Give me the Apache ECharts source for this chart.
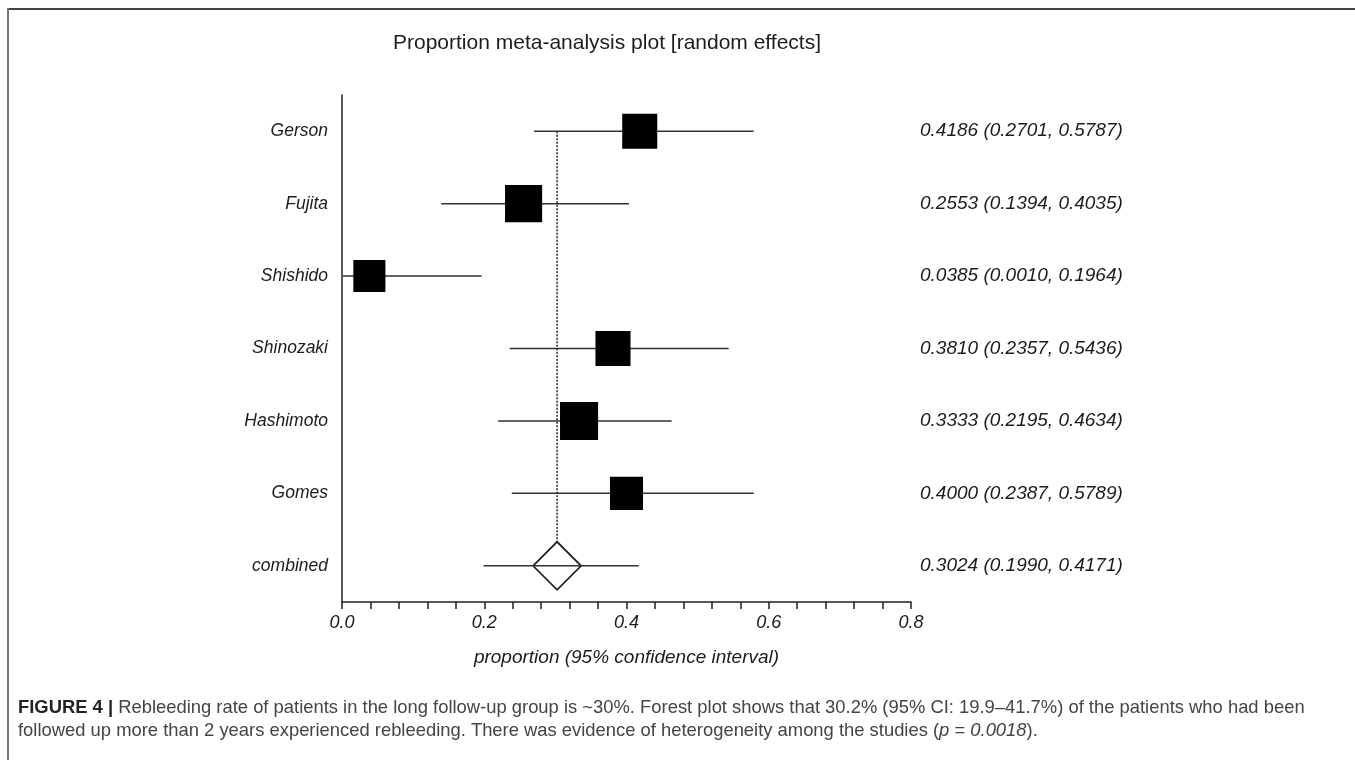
<!DOCTYPE html>
<html>
<head>
<meta charset="utf-8">
<script src="https://cdn.jsdelivr.net/npm/echarts@6/dist/echarts.min.js"></script>
<style>
html,body{margin:0;padding:0;background:#fff;}
#chart{width:1355px;height:760px;}
</style>
</head>
<body>
<div id="chart"></div>
<script>
// ---- data ----
const studies = ['Gerson', 'Fujita', 'Shishido', 'Shinozaki', 'Hashimoto', 'Gomes', 'combined'];
const estimate = [0.4186, 0.2553, 0.0385, 0.3810, 0.3333, 0.4000, 0.3024];
const lower = [0.2701, 0.1394, 0.0010, 0.2357, 0.2195, 0.2387, 0.1990];
const upper = [0.5787, 0.4035, 0.1964, 0.5436, 0.4634, 0.5789, 0.4171];
const weight = [16.6, 18.6, 13.9, 16.6, 19.6, 14.8]; // relative weights (%) of the studies
const xTickLabels = ['0.0', '0.2', '0.4', '0.6', '0.8'];

const titleText = 'Proportion meta-analysis plot [random effects]';
const xAxisTitle = 'proportion (95% confidence interval)';

const ciLabels = studies.map((s, i) =>
  estimate[i].toFixed(4) + ' (' + lower[i].toFixed(4) + ', ' + upper[i].toFixed(4) + ')');

const pooledIndex = studies.length - 1;
const rows = studies.map((s, i) => [i, estimate[i], lower[i], upper[i], i < pooledIndex ? weight[i] : 0]);

const FONT = '"Liberation Sans", Arial, sans-serif';
const INK = '#1c1c1c';

const chart = echarts.init(document.getElementById('chart'), null, {renderer: 'canvas'});

function renderItem(params, api) {
  const idx = api.value(0);
  const est = api.value(1), lo = api.value(2), hi = api.value(3), w = api.value(4);
  const pE = api.coord([est, idx]);
  const pL = api.coord([lo, idx]);
  const pH = api.coord([hi, idx]);
  const lineStyle = {stroke: '#333', lineWidth: 1.5};
  const children = [];
  if (idx === pooledIndex) {
    const h = 24;
    const top = api.coord([est, 0]);
    children.push({
      type: 'line',
      shape: {x1: pE[0], y1: top[1], x2: pE[0], y2: pE[1] - h},
      style: {stroke: '#222', lineWidth: 1.5, lineDash: [2, 1.5]}
    });
    children.push({
      type: 'polygon',
      shape: {points: [[pE[0] - h, pE[1]], [pE[0], pE[1] - h], [pE[0] + h, pE[1]], [pE[0], pE[1] + h]]},
      style: {fill: '#fff', stroke: '#222', lineWidth: 1.8}
    });
    children.push({
      type: 'line',
      shape: {x1: pL[0], y1: pL[1], x2: pH[0], y2: pH[1]},
      style: lineStyle
    });
  } else {
    children.push({
      type: 'line',
      shape: {x1: pL[0], y1: pL[1], x2: pH[0], y2: pH[1]},
      style: lineStyle
    });
    const s = Math.sqrt(w) * 8.6;
    children.push({
      type: 'rect',
      shape: {x: pE[0] - s / 2, y: pE[1] - s / 2, width: s, height: s},
      style: {fill: '#000'}
    });
  }
  return {type: 'group', children: children};
}

const CAP = 18.4;
const option = {
  backgroundColor: '#fff',
  animation: false,
  title: [
    {
      text: titleText,
      left: 388, top: 28,
      textStyle: {fontFamily: FONT, fontSize: 21, fontWeight: 'normal', color: INK}
    },
    {
      text: '{b|FIGURE 4 |} {n|Rebleeding rate of patients in the long follow-up group is ~30%. Forest plot shows that 30.2% (95% CI: 19.9–41.7%) of the patients who had been}\n' +
            '{n|followed up more than 2 years experienced rebleeding. There was evidence of heterogeneity among the studies (}{i|p}{n| = }{i|0.0018}{n|).}',
      left: 13, top: 691,
      textStyle: {
        fontFamily: FONT, fontSize: CAP, fontWeight: 'normal', color: '#444', lineHeight: 23,
        rich: {
          b: {fontFamily: FONT, fontSize: CAP, fontWeight: 'bold', color: '#222', lineHeight: 23},
          n: {fontFamily: FONT, fontSize: CAP, color: '#444', lineHeight: 23},
          i: {fontFamily: FONT, fontSize: CAP, fontStyle: 'italic', color: '#444', lineHeight: 23}
        }
      }
    }
  ],
  graphic: [
    {type: 'line', shape: {x1: 7, y1: 9, x2: 1355, y2: 9}, style: {stroke: '#444', lineWidth: 2}},
    {type: 'line', shape: {x1: 8, y1: 8, x2: 8, y2: 760}, style: {stroke: '#777', lineWidth: 2}}
  ],
  grid: {left: 342, right: 444, top: 95, bottom: 158, containLabel: false},
  xAxis: {
    type: 'value', min: 0, max: 0.8, interval: 0.2,
    name: xAxisTitle, nameLocation: 'middle', nameGap: 46,
    nameTextStyle: {fontFamily: FONT, fontSize: 19, fontStyle: 'italic', color: INK},
    axisLine: {show: true, lineStyle: {color: '#222', width: 1.5}},
    axisTick: {show: true, length: 7, lineStyle: {color: '#222', width: 1.5}},
    minorTick: {show: true, splitNumber: 5, length: 7, lineStyle: {color: '#222', width: 1.5}},
    splitLine: {show: false},
    axisLabel: {
      margin: 12, fontFamily: FONT, fontSize: 18, fontStyle: 'italic', color: INK,
      formatter: function (v) { return xTickLabels[Math.round(v / 0.2)]; }
    }
  },
  yAxis: [
    {
      type: 'category', data: studies, inverse: true, position: 'left',
      axisLine: {show: true, lineStyle: {color: '#222', width: 1.5}},
      axisTick: {show: false},
      splitLine: {show: false},
      axisLabel: {margin: 14, fontFamily: FONT, fontSize: 17.5, fontStyle: 'italic', color: INK}
    },
    {
      type: 'category', data: ciLabels, inverse: true, position: 'right',
      axisLine: {show: false}, axisTick: {show: false}, splitLine: {show: false},
      axisLabel: {margin: 9, fontFamily: FONT, fontSize: 19, fontStyle: 'italic', color: INK}
    }
  ],
  series: [{
    type: 'custom',
    renderItem: renderItem,
    data: rows,
    encode: {x: [1, 2, 3], y: 0},
    clip: false,
    z: 5
  }]
};
chart.setOption(option);
</script>
</body>
</html>
